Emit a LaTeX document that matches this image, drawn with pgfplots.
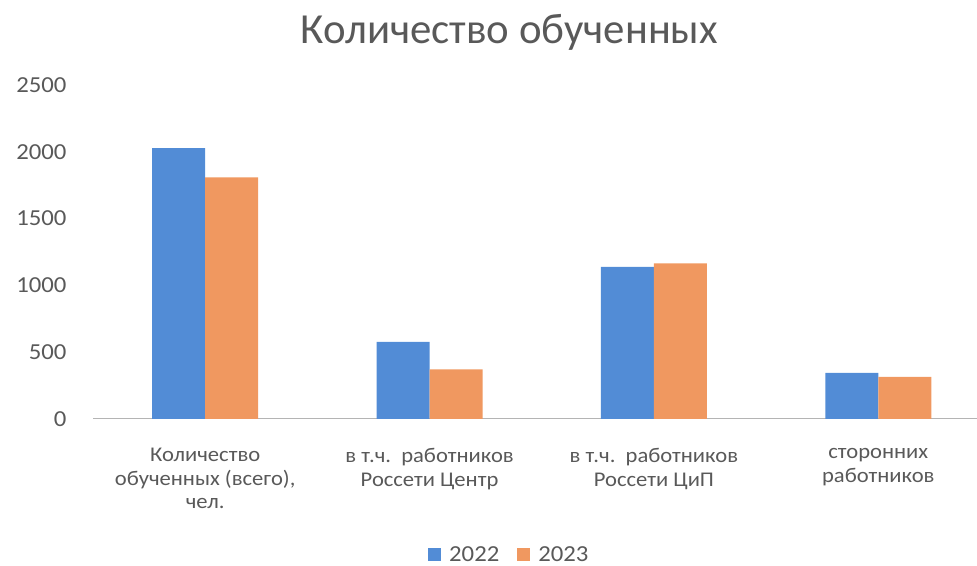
\documentclass[border=0pt]{standalone}
\usepackage{pgfplots}
\pgfplotsset{compat=1.18}
\usepackage{fontspec}
\setmainfont{Carlito}
\newfontfamily\lbl[FakeStretch=1.08]{Carlito}
\definecolor{b22}{RGB}{82,140,214}
\definecolor{o23}{RGB}{240,152,96}
\definecolor{txt}{RGB}{89,89,89}
\definecolor{axl}{RGB}{180,180,180}
\begin{document}
\begin{tikzpicture}[x=1bp,y=1bp]
\useasboundingbox (0,0) rectangle (977,566);
\begin{axis}[
  at={(93bp,147bp)}, anchor=south west,
  scale only axis, width=884bp, height=334bp,
  xmin=-0.5, xmax=3.44, ymin=0, ymax=2500,
  enlargelimits=false,
  ybar=0pt, bar width=53bp,
  axis lines*=left,
  y axis line style={draw=none},
  x axis line style={draw=axl, line width=1bp, -},
  major tick length=0pt,
  ytick={0,500,1000,1500,2000,2500},
  yticklabel style={font=\lbl\fontsize{23}{26}\selectfont, text=txt, anchor=east, xshift=-23bp},
  /pgf/number format/assume math mode=true,
  /pgf/number format/1000 sep={},
  scaled y ticks=false,
  xtick={0,1,2,3},
  xticklabels={{Количество\\обученных (всего),\\чел.},{в т.ч.\ \ работников\\Россети Центр},{в т.ч.\ \ работников\\Россети ЦиП},{сторонних\\работников}},
  xticklabel style={font=\lbl\fontsize{21}{23.5}\selectfont, text=txt, align=center, anchor=north, yshift=-26bp},
  title={Количество обученных},
  title style={at={(rel axis cs:0.471,1.105)}, anchor=base, font=\fontsize{43}{50}\selectfont, text=txt},
  legend style={at={(0.471,-0.407)}, anchor=center, draw=none, fill=none, legend columns=2,
     font=\lbl\fontsize{23}{26}\selectfont, text=txt,
     /tikz/every odd column/.append style={column sep=6bp},
     /tikz/every even column/.append style={column sep=16bp}},
  legend image code/.code={\fill[#1] (0bp,-6bp) rectangle (13bp,7bp);},
]
\addplot[fill=b22, draw=none] coordinates {(0,2027) (1,577) (2,1139) (3,345)};
\addplot[fill=o23, draw=none] coordinates {(0,1809) (1,372) (2,1164) (3,315)};
\legend{2022,2023}
\end{axis}
\end{tikzpicture}
\end{document}
